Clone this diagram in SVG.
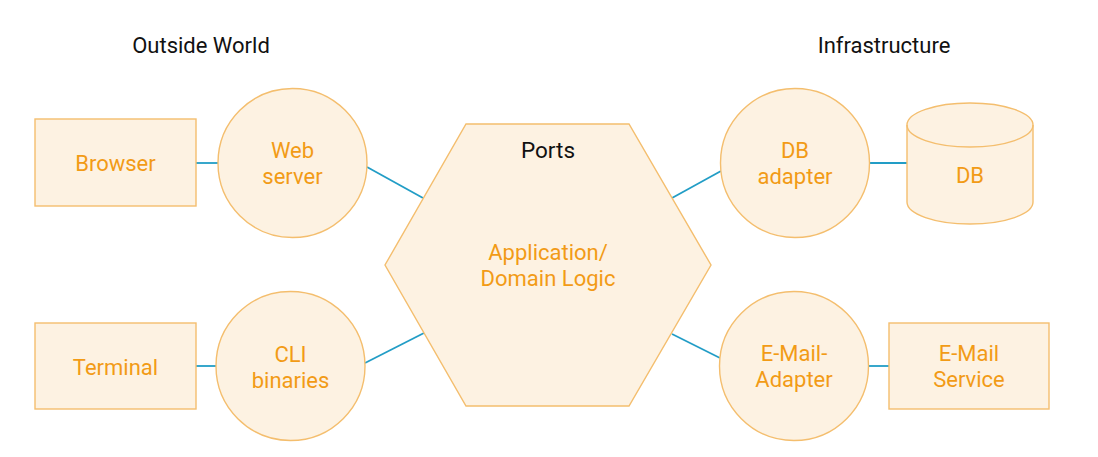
<svg xmlns="http://www.w3.org/2000/svg" width="1098" height="457" viewBox="0 0 1098 457">
<style>
.shape{fill:#FDF2E2;stroke:#F4BE6E;stroke-width:1.4}
.lbl{font-family:Roboto,"Liberation Sans",sans-serif;font-size:22px;fill:#F29B16;text-anchor:middle}
.title{font-family:Roboto,"Liberation Sans",sans-serif;font-size:22px;fill:#111;text-anchor:middle}
.conn{stroke:#229DC6;stroke-width:1.8;fill:none}
</style>
<rect width="1098" height="457" fill="#fff"/>
<text class="title" x="201" y="53">Outside World</text>
<text class="title" x="884" y="53">Infrastructure</text>
<g id="connectors">
<line class="conn" x1="196" y1="163" x2="218" y2="163"/>
<line class="conn" x1="367" y1="167" x2="423" y2="198"/>
<line class="conn" x1="196" y1="366" x2="216" y2="366"/>
<line class="conn" x1="365" y1="363" x2="424" y2="333"/>
<line class="conn" x1="672" y1="198" x2="721" y2="171"/>
<line class="conn" x1="672" y1="334" x2="720" y2="358"/>
<line class="conn" x1="869" y1="163" x2="907" y2="163"/>
<line class="conn" x1="868" y1="366" x2="889" y2="366"/>
</g>
<g id="browser">
<rect class="shape" x="35" y="119" width="161" height="87"/>
<text class="lbl" x="115.5" y="171">Browser</text>
</g>
<g id="webserver">
<circle class="shape" cx="292.5" cy="163" r="74.5"/>
<text class="lbl" x="292.5" y="158">Web</text>
<text class="lbl" x="292.5" y="184">server</text>
</g>
<g id="terminal">
<rect class="shape" x="35" y="323" width="161" height="86"/>
<text class="lbl" x="115.5" y="375">Terminal</text>
</g>
<g id="cli">
<circle class="shape" cx="290.5" cy="366" r="74.5"/>
<text class="lbl" x="290.5" y="362">CLI</text>
<text class="lbl" x="290.5" y="388">binaries</text>
</g>
<g id="hexagon">
<polygon class="shape" points="466,124 629,124 711,265 629,406 466,406 385,265"/>
<text class="title" style="font-size:22.5px" x="548" y="158">Ports</text>
<text class="lbl" x="548" y="260">Application/</text>
<text class="lbl" x="548" y="286">Domain Logic</text>
</g>
<g id="dbadapter">
<circle class="shape" cx="795" cy="163" r="74.5"/>
<text class="lbl" x="795" y="158">DB</text>
<text class="lbl" x="795" y="184">adapter</text>
</g>
<g id="db">
<path class="shape" d="M907,125 L907,202 A63,22 0 0 0 1033,202 L1033,125 A63,22 0 0 0 907,125 Z"/>
<path class="shape" style="fill:none" d="M907,125 A63,22 0 0 0 1033,125"/>
<text class="lbl" x="970" y="183">DB</text>
</g>
<g id="emailadapter">
<circle class="shape" cx="794" cy="366" r="74.5"/>
<text class="lbl" x="794" y="361">E-Mail-</text>
<text class="lbl" x="794" y="387">Adapter</text>
</g>
<g id="emailservice">
<rect class="shape" x="889" y="323" width="160" height="86"/>
<text class="lbl" x="969" y="361">E-Mail</text>
<text class="lbl" x="969" y="387">Service</text>
</g>
</svg>
